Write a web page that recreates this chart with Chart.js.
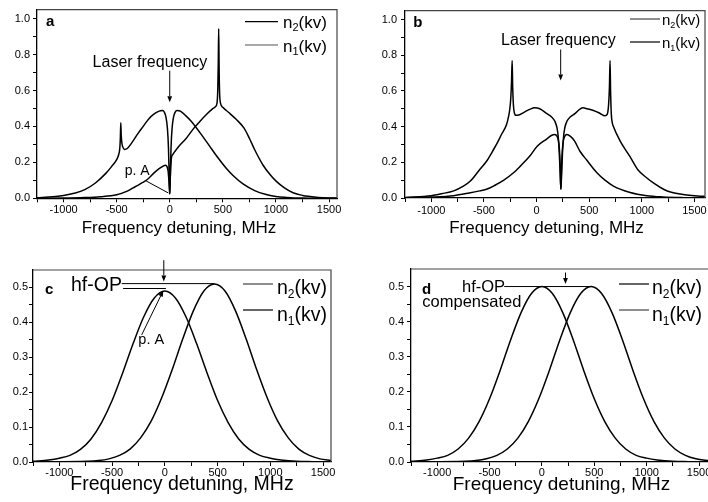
<!DOCTYPE html>
<html><head><meta charset="utf-8">
<script src="https://cdn.jsdelivr.net/npm/chart.js@4.4.1/dist/chart.umd.min.js"></script>
<style>
html,body{margin:0;padding:0;background:#fff;overflow:hidden;width:708px;height:502px;position:relative}
canvas{position:absolute}
</style></head><body>
<canvas id="ca" width="360" height="250" style="left:0px;top:0px"></canvas>
<canvas id="cb" width="380" height="250" style="left:354px;top:0px"></canvas>
<canvas id="cc" width="360" height="247" style="left:0px;top:255px"></canvas>
<canvas id="cd" width="380" height="247" style="left:354px;top:255px"></canvas>
<script>
const FONT = '"Liberation Sans", Arial, Helvetica, sans-serif';

// ---- data: [frequency detuning (MHz), population] ----
const a_n2 = [[-1250,0.003],[-1100,0.008],[-1000,0.016],[-900,0.028],[-800,0.048],[-700,0.085],[-600,0.14],[-550,0.175],[-500,0.215],[-480,0.245],[-470,0.28],[-465,0.34],[-461,0.42],[-457,0.35],[-450,0.305],[-440,0.283],[-425,0.272],[-400,0.277],[-350,0.315],[-300,0.36],[-250,0.40],[-200,0.44],[-150,0.468],[-100,0.485],[-70,0.488],[-50,0.478],[-35,0.45],[-22,0.39],[-12,0.28],[-5,0.12],[0,0.025],[5,0.12],[12,0.28],[22,0.39],[35,0.45],[50,0.478],[70,0.488],[100,0.485],[150,0.46],[200,0.43],[250,0.393],[300,0.353],[377,0.289],[440,0.237],[534,0.166],[596,0.127],[690,0.080],[800,0.043],[900,0.022],[1000,0.010],[1100,0.005],[1250,0.001],[1400,0],[1575,0]];
const a_n1 = [[-1250,0],[-1000,0.001],[-800,0.004],[-650,0.009],[-500,0.02],[-400,0.04],[-345,0.058],[-300,0.072],[-254,0.088],[-200,0.11],[-150,0.14],[-100,0.165],[-60,0.18],[-40,0.184],[-25,0.175],[-15,0.15],[-8,0.1],[-3,0.05],[0,0.025],[3,0.08],[8,0.16],[16,0.225],[30,0.245],[50,0.262],[94,0.295],[150,0.33],[220,0.385],[280,0.425],[345,0.466],[408,0.50],[430,0.51],[445,0.53],[452,0.6],[457,0.75],[461,0.944],[465,0.72],[470,0.58],[478,0.53],[502,0.505],[550,0.48],[628,0.438],[700,0.39],[753,0.33],[800,0.27],[879,0.184],[950,0.128],[1004,0.094],[1080,0.058],[1161,0.031],[1250,0.016],[1318,0.01],[1400,0.005],[1507,0.002],[1575,0.001]];

const b_n2 = [[-1250,0.003],[-1000,0.013],[-900,0.024],[-787,0.04],[-700,0.065],[-629,0.095],[-540,0.16],[-470,0.21],[-420,0.26],[-381,0.30],[-330,0.36],[-286,0.41],[-265,0.46],[-254,0.50],[-245,0.56],[-238,0.65],[-232,0.77],[-227,0.62],[-220,0.52],[-210,0.475],[-195,0.463],[-170,0.465],[-120,0.48],[-60,0.498],[-20,0.505],[30,0.50],[95,0.474],[140,0.455],[174,0.43],[195,0.39],[206,0.34],[216,0.25],[224,0.14],[231,0.049],[238,0.14],[246,0.25],[256,0.34],[267,0.39],[288,0.43],[322,0.455],[367,0.474],[412,0.498],[444,0.505],[480,0.50],[540,0.49],[600,0.475],[650,0.461],[672,0.47],[685,0.53],[692,0.62],[698,0.77],[703,0.60],[710,0.47],[720,0.42],[730,0.40],[793,0.32],[889,0.23],[960,0.16],[1048,0.112],[1120,0.08],[1206,0.049],[1280,0.032],[1365,0.022],[1450,0.015],[1555,0.01],[1600,0.009]];
const b_n1 = [[-1250,0.001],[-1000,0.005],[-787,0.013],[-640,0.028],[-540,0.04],[-470,0.05],[-400,0.07],[-311,0.10],[-222,0.14],[-152,0.18],[-64,0.235],[6,0.29],[95,0.33],[140,0.35],[174,0.356],[195,0.345],[208,0.32],[217,0.27],[224,0.18],[228,0.09],[231,0.05],[234,0.09],[238,0.18],[245,0.27],[254,0.32],[267,0.345],[288,0.356],[322,0.345],[360,0.32],[412,0.262],[480,0.21],[571,0.143],[650,0.1],[730,0.067],[889,0.031],[1048,0.013],[1200,0.006],[1400,0.002],[1600,0]];

const c_n2 = [[-1250,0.002],[-1100,0.006],[-1000,0.011],[-900,0.019],[-800,0.036],[-700,0.066],[-600,0.113],[-500,0.176],[-400,0.255],[-300,0.34],[-200,0.416],[-100,0.47],[0,0.49],[100,0.47],[200,0.416],[300,0.34],[400,0.255],[500,0.176],[600,0.113],[700,0.066],[800,0.036],[900,0.019],[1000,0.011],[1100,0.006],[1250,0.002],[1400,0.001],[1575,0]];
const c_n1 = [[-1250,0],[-730,0.002],[-630,0.004],[-530,0.009],[-430,0.019],[-330,0.037],[-230,0.069],[-130,0.117],[-30,0.184],[70,0.265],[170,0.353],[270,0.433],[370,0.49],[470,0.51],[570,0.49],[670,0.433],[770,0.353],[870,0.265],[970,0.184],[1070,0.117],[1170,0.069],[1270,0.037],[1370,0.019],[1470,0.009],[1575,0.004]];

const d_n2 = [[-1250,0.002],[-1100,0.006],[-1000,0.011],[-900,0.019],[-800,0.037],[-700,0.068],[-600,0.115],[-500,0.18],[-400,0.26],[-300,0.347],[-200,0.425],[-100,0.48],[0,0.5],[100,0.48],[200,0.425],[300,0.347],[400,0.26],[500,0.18],[600,0.115],[700,0.068],[800,0.037],[900,0.019],[1000,0.011],[1100,0.006],[1250,0.002],[1400,0.001],[1600,0]];
const d_n1 = [[-1250,0],[-730,0.002],[-630,0.004],[-530,0.009],[-430,0.019],[-330,0.037],[-230,0.068],[-130,0.115],[-30,0.18],[70,0.26],[170,0.347],[270,0.425],[370,0.48],[470,0.5],[570,0.48],[670,0.425],[770,0.347],[870,0.26],[970,0.18],[1070,0.115],[1170,0.068],[1270,0.037],[1370,0.019],[1470,0.009],[1600,0.003]];

const xTitle = 'Frequency detuning, MHz';
const legendNames = [['n','2','(kv)'],['n','1','(kv)']];

// ---- drawing helpers ----
function txt(ctx, s, x, y, size, align, weight){
  ctx.save();
  ctx.font = (weight||'normal') + ' ' + size + 'px ' + FONT;
  ctx.textAlign = align||'left'; ctx.textBaseline = 'alphabetic'; ctx.fillStyle = '#000';
  ctx.fillText(s, x, y); ctx.restore();
}
function seg(ctx, x1, y1, x2, y2, color, w){
  ctx.save(); ctx.strokeStyle = color||'#000'; ctx.lineWidth = w||1;
  ctx.beginPath(); ctx.moveTo(x1,y1); ctx.lineTo(x2,y2); ctx.stroke(); ctx.restore();
}
function arrow(ctx, x1, y1, x2, y2){
  const L = 6, H = 2.4;
  const ang = Math.atan2(y2-y1, x2-x1);
  const bx = x2 - L*Math.cos(ang), by = y2 - L*Math.sin(ang);
  seg(ctx, x1, y1, bx, by, '#000', 1);
  ctx.save(); ctx.fillStyle = '#000'; ctx.beginPath();
  ctx.moveTo(x2, y2);
  ctx.lineTo(bx + H*Math.sin(ang), by - H*Math.cos(ang));
  ctx.lineTo(bx - H*Math.sin(ang), by + H*Math.cos(ang));
  ctx.closePath(); ctx.fill(); ctx.restore();
}
function legendItem(ctx, x1, x2, yLine, xText, yBase, size, parts, color){
  seg(ctx, x1, yLine, x2, yLine, color, 1.2);
  ctx.save(); ctx.fillStyle = '#000'; ctx.textBaseline = 'alphabetic'; ctx.textAlign = 'left';
  ctx.font = size + 'px ' + FONT;
  ctx.fillText(parts[0], xText, yBase);
  let x = xText + ctx.measureText(parts[0]).width;
  ctx.font = Math.round(size*0.62) + 'px ' + FONT;
  ctx.fillText(parts[1], x, yBase + size*0.22);
  x += ctx.measureText(parts[1]).width;
  ctx.font = size + 'px ' + FONT;
  ctx.fillText(parts[2], x, yBase);
  ctx.restore();
}
function frame(chart){
  const a = chart.chartArea, ctx = chart.ctx;
  ctx.save(); ctx.strokeStyle = '#444'; ctx.lineWidth = 1.2;
  ctx.beginPath(); ctx.moveTo(a.left, a.top); ctx.lineTo(a.right, a.top); ctx.lineTo(a.right, a.bottom); ctx.stroke();
  ctx.restore();
}
function stepTicks(from, to, step){
  const t = [];
  const n = Math.round((to - from) / step);
  for (let k = 0; k <= n; k++) t.push({ value: +(from + k * step).toFixed(6) });
  return t;
}

function panel(id, cfg){
  const isStep = (v, s) => Math.abs(v/s - Math.round(v/s)) < 1e-6;
  return new Chart(document.getElementById(id), {
    type: 'line',
    data: { datasets: cfg.series.map(s => ({
      data: s.map(p => ({x: p[0], y: p[1]})),
      borderColor: '#000', borderWidth: 1.5, pointRadius: 0,
      cubicInterpolationMode: 'monotone', fill: false
    })) },
    options: {
      responsive: false, animation: false, events: [],
      layout: { autoPadding: false, padding: { left: 0, top: cfg.padTop, right: cfg.padRight, bottom: 0 } },
      plugins: { legend: { display: false }, tooltip: { enabled: false } },
      scales: {
        x: {
          type: 'linear', min: -1250, max: cfg.xMax,
          afterBuildTicks: s => { s.ticks = stepTicks(-1250, 1500, 250); },
          afterFit: s => { s.height = cfg.xH; },
          ticks: { stepSize: 250, autoSkip: false, maxRotation: 0, color: '#000', padding: cfg.xPad,
                   font: { size: 11, family: FONT },
                   callback: v => isStep(v, 500) ? String(Math.round(v)) : '' },
          grid: { drawOnChartArea: false, drawTicks: true, tickLength: 4, tickColor: '#000', tickWidth: 1 },
          border: { display: true, color: '#000', width: 1.3 }
        },
        y: {
          type: 'linear', min: 0, max: cfg.yMax,
          afterBuildTicks: s => { s.ticks = stepTicks(0, cfg.yTop, cfg.yMinor); },
          afterFit: s => { s.width = cfg.yW; },
          ticks: { stepSize: cfg.yMinor, autoSkip: false, color: '#000', padding: cfg.yPad,
                   font: { size: 11, family: FONT },
                   callback: v => isStep(v, cfg.yMajor) ? v.toFixed(1) : '' },
          grid: { drawOnChartArea: false, drawTicks: true, tickLength: 4, tickColor: '#000', tickWidth: 1 },
          border: { display: true, color: '#000', width: 1.3 }
        }
      }
    },
    plugins: [{ id: 'ov_' + id, afterDraw: chart => {
      const ctx = chart.ctx;
      const X = v => chart.scales.x.getPixelForValue(v), Y = v => chart.scales.y.getPixelForValue(v);
      frame(chart);
      cfg.draw(ctx, X, Y);
    } }]
  });
}

// panel a
panel('ca', {
  series: [a_n2, a_n1], xMax: 1575, padTop: 5.5, padRight: 23, xH: 51.7, xPad: 1,
  yMax: 1.05, yTop: 1.0, yMinor: 0.1, yMajor: 0.2, yW: 37, yPad: 3,
  draw: (ctx, X, Y) => {
    txt(ctx, 'a', 46, 26, 15, 'left', 'bold');
    legendItem(ctx, 245, 278, 21.7, 283, 27.5, 17, legendNames[0], '#000');
    legendItem(ctx, 245, 278, 45, 283, 51.5, 17, legendNames[1], '#555');
    txt(ctx, xTitle, 179, 233, 17, 'center');
    txt(ctx, 'Laser frequency', X(-186), Y(0.731), 16, 'center');
    arrow(ctx, X(0), Y(0.71), X(0), Y(0.535));
    txt(ctx, 'p. A', X(-306), Y(0.132), 14, 'center');
    seg(ctx, X(-233), Y(0.10), X(-14), Y(0.03), '#000', 1);
  }
});

// panel b
panel('cb', {
  series: [b_n2, b_n1], xMax: 1600, padTop: 5, padRight: 29, xH: 52, xPad: 2,
  yMax: 1.05, yTop: 1.0, yMinor: 0.1, yMajor: 0.2, yW: 51, yPad: 4,
  draw: (ctx, X, Y) => {
    txt(ctx, 'b', 59.3, 26.5, 15, 'left', 'bold');
    legendItem(ctx, 276, 306, 19, 308, 25, 15, legendNames[0], '#444');
    legendItem(ctx, 276, 306, 42, 308, 47.5, 15, legendNames[1], '#000');
    txt(ctx, xTitle, 192.5, 233, 17, 'center');
    txt(ctx, 'Laser frequency', X(208), Y(0.86), 16, 'center');
    arrow(ctx, X(229), Y(0.832), X(229), Y(0.658));
  }
});

// panel c
panel('cc', {
  series: [c_n2, c_n1], xMax: 1575, padTop: 15, padRight: 29, xH: 40, xPad: 0,
  yMax: 0.55, yTop: 0.5, yMinor: 0.05, yMajor: 0.1, yW: 33, yPad: 1,
  draw: (ctx, X, Y) => {
    txt(ctx, 'c', 45, 38.5, 15, 'left', 'bold');
    legendItem(ctx, 243, 273, 29, 277, 39, 19.5, legendNames[0], '#444');
    legendItem(ctx, 243, 273, 55, 277, 66, 19.5, legendNames[1], '#000');
    txt(ctx, xTitle, 182, 235, 19.5, 'center');
    txt(ctx, 'hf-OP', 71, 36, 19.5, 'left');
    seg(ctx, X(-409), Y(0.511), X(470), Y(0.511), '#000', 1);
    seg(ctx, X(-396), Y(0.497), X(10), Y(0.497), '#000', 1);
    arrow(ctx, X(-10), Y(0.578), X(-10), Y(0.517));
    txt(ctx, 'p. A', X(-129), Y(0.338), 14.5, 'center');
    arrow(ctx, X(-220), Y(0.364), X(-15), Y(0.491));
  }
});

// panel d
panel('cd', {
  series: [d_n2, d_n1], xMax: 1600, padTop: 14, padRight: 24.5, xH: 40, xPad: 0,
  yMax: 0.55, yTop: 0.5, yMinor: 0.05, yMajor: 0.1, yW: 57, yPad: 3,
  draw: (ctx, X, Y) => {
    txt(ctx, 'd', 68, 38.5, 15, 'left', 'bold');
    legendItem(ctx, 265, 295, 29, 298, 39, 19.5, legendNames[0], '#000');
    legendItem(ctx, 265, 295, 55, 298, 66, 19.5, legendNames[1], '#444');
    txt(ctx, xTitle, 207.5, 235, 19, 'center');
    txt(ctx, 'hf-OP', 108, 36.7, 16.5, 'left');
    txt(ctx, 'compensated', 68.3, 51.7, 16.5, 'left');
    seg(ctx, X(-360), Y(0.5), X(474), Y(0.5), '#000', 1);
    arrow(ctx, X(225), Y(0.54), X(225), Y(0.507));
  }
});
</script>
</body></html>
